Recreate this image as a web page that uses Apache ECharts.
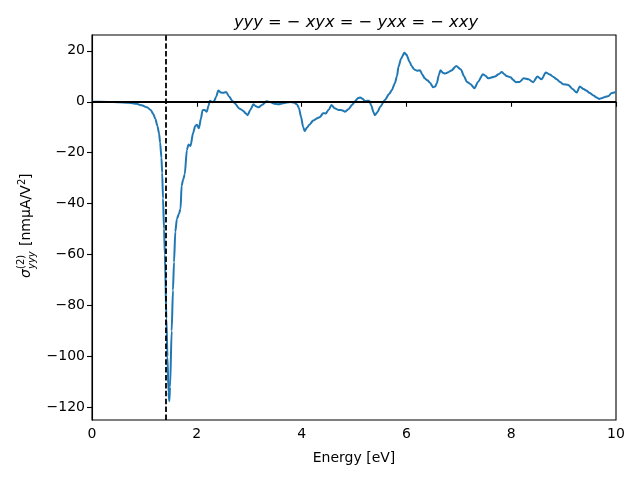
<!DOCTYPE html>
<html>
<head>
<meta charset="utf-8">
<script src="https://cdn.jsdelivr.net/npm/echarts@6/dist/echarts.min.js"></script>
<style>html,body{margin:0;padding:0;background:#fff}#c{width:640px;height:480px}</style>
</head>
<body>
<div id="c"></div>
<script>
var energy = [0,0.3,0.5,0.7,0.85,0.95,1.05,1.12,1.17,1.21,1.25,1.28,1.30,1.325,1.34,1.355,1.375,1.39,1.42,1.44,1.46,1.475,1.49,1.52,1.545,1.565,1.59,1.62,1.66,1.69,1.71,1.74,1.77,1.81,1.84,1.88,1.93,1.97,2.00,2.04,2.08,2.11,2.15,2.19,2.225,2.25,2.30,2.33,2.37,2.41,2.46,2.50,2.56,2.62,2.67,2.73,2.80,2.86,2.89,2.93,2.97,3.02,3.08,3.13,3.18,3.25,3.33,3.40,3.48,3.56,3.65,3.78,3.85,3.91,3.95,3.99,4.03,4.06,4.10,4.15,4.22,4.30,4.35,4.41,4.46,4.52,4.57,4.63,4.70,4.77,4.83,4.90,4.96,5.02,5.08,5.12,5.16,5.21,5.25,5.29,5.33,5.37,5.40,5.45,5.50,5.59,5.67,5.72,5.78,5.82,5.85,5.90,5.96,6.00,6.06,6.10,6.15,6.20,6.26,6.30,6.35,6.40,6.45,6.51,6.55,6.58,6.62,6.65,6.70,6.74,6.80,6.86,6.95,7.04,7.10,7.15,7.22,7.30,7.37,7.46,7.51,7.56,7.62,7.69,7.76,7.82,7.87,7.91,7.99,8.04,8.09,8.16,8.24,8.33,8.42,8.50,8.58,8.66,8.74,8.80,8.87,8.93,8.99,9.09,9.17,9.25,9.31,9.38,9.44,9.50,9.57,9.63,9.68,9.74,9.79,9.85,9.92,10.0];
var sigma = [0,-0.05,-0.15,-0.4,-0.8,-1.4,-2.2,-3.2,-4.8,-6.8,-9.6,-12.5,-16,-22,-28,-38,-50,-60,-85,-100,-114,-117.5,-112,-90,-74,-63,-51,-46,-44,-42,-33,-30.5,-28.5,-19,-16.8,-17.4,-12.2,-9.5,-9,-10.4,-6.5,-3.3,-3.2,-3.9,-1.5,0.4,-0.2,0.3,2.0,4.4,3.6,3.5,3.8,2.0,0.5,-0.7,-2.5,-3.2,-3.6,-4.5,-5.3,-3.2,-1.0,-1.8,-2.2,-1.2,0.2,-0.1,-0.8,-1.0,-0.6,-0.1,-0.3,-1.0,-2.5,-6,-10,-11.5,-10.2,-9,-7.4,-6.5,-6,-4.5,-4.6,-3,-1.3,-2.5,-3.2,-3.3,-3.9,-2.8,-1.3,0.2,1.5,1.7,1.2,0.3,0.4,0.4,-1.5,-4,-5.3,-4,-2,0.7,3,4.5,7.3,10,13.8,17,19.2,18.5,15.7,14,12.7,12.2,12.4,10.8,9.2,8.4,7.5,5.7,6,7.2,10.5,12.4,11.3,11.1,11.6,12.3,14,12.7,10,7.9,7.0,5.3,7.9,10.8,10.2,9.2,9.5,9.9,10.8,11.7,10.8,10.1,9.6,8.5,7.7,7.8,9.2,8.8,7.7,9.9,8.8,11.5,10.7,9.8,8.8,7.8,6.9,6.6,5.0,3.6,6.0,5.0,4.3,3.4,2.5,1.7,1.1,1.5,1.9,2.2,3.4,3.8];
var yTicks = [-120,-100,-80,-60,-40,-20,0,20];
var xTicks = [0,2,4,6,8,10];
var gapEnergy = 1.41;

var chart = echarts.init(document.getElementById('c'), null, {renderer:'canvas'});
var pts = energy.map(function(e,i){return [e, sigma[i]];});
var F = 'DejaVu Sans';
var lblFs = 14, subFs = 10;
function fmt(v){ return v < 0 ? '\u2212' + Math.abs(v) : String(v); }
chart.setOption({
  animation:false,
  backgroundColor:'#fff',
  title:{text:'yyy = − xyx = − yxx = − xxy', left:351, top:10, textAlign:'center',
    textStyle:{fontFamily:F, fontStyle:'italic', fontWeight:'normal', fontSize:16.3, color:'#000'}},
  grid:{left:92, right:24, top:35, bottom:60, show:true, borderColor:'#000', borderWidth:1.1, backgroundColor:'transparent'},
  xAxis:{type:'value', min:0, max:10, interval:2,
    name:'Energy [eV]', nameLocation:'middle', nameGap:31,
    nameTextStyle:{fontFamily:F, fontSize:14, color:'#000'},
    axisLine:{show:true, lineStyle:{color:'#000', width:1.1}},
    axisTick:{show:true, inside:false, length:5, lineStyle:{color:'#000', width:1.1}},
    axisLabel:{fontFamily:F, fontSize:14, color:'#000', margin:7, formatter:fmt},
    splitLine:{show:false}},
  yAxis:{type:'value', min:-124.9, max:26.2,
    axisLine:{show:true, onZero:false, lineStyle:{color:'#000', width:1.1}},
    axisTick:{show:true, inside:false, length:5, customValues:yTicks, lineStyle:{color:'#000', width:1.1}},
    axisLabel:{fontFamily:F, fontSize:14, color:'#000', margin:7, customValues:yTicks, formatter:fmt},
    splitLine:{show:false}},
  graphic:[{
    type:'group', x:33, y:227, rotation:Math.PI/2,
    children:[
      {type:'text', x:-51, y:0, style:{text:'σ', font:'italic '+lblFs+'px "DejaVu Sans"', fill:'#000', textAlign:'left', textVerticalAlign:'bottom'}},
      {type:'text', x:-42, y:-7, style:{text:'(2)', font:subFs+'px "DejaVu Sans"', fill:'#000', textAlign:'left', textVerticalAlign:'bottom'}},
      {type:'text', x:-42, y:4, style:{text:'yyy', font:'italic '+subFs+'px "DejaVu Sans"', fill:'#000', textAlign:'left', textVerticalAlign:'bottom'}},
      {type:'text', x:-19, y:0, style:{text:'[nmμA/V', font:lblFs+'px "DejaVu Sans"', fill:'#000', textAlign:'left', textVerticalAlign:'bottom'}},
      {type:'text', x:42, y:-6, style:{text:'2', font:subFs+'px "DejaVu Sans"', fill:'#000', textAlign:'left', textVerticalAlign:'bottom'}},
      {type:'text', x:48, y:0, style:{text:']', font:lblFs+'px "DejaVu Sans"', fill:'#000', textAlign:'left', textVerticalAlign:'bottom'}}
    ]
  }],
  series:[{
    type:'line', data:pts, showSymbol:false, smooth:0.25, smoothMonotone:'x',
    lineStyle:{color:'#1f77b4', width:2}, z:2,
    markLine:{silent:true, symbol:'none', label:{show:false}, animation:false,
      data:[
        {xAxis:gapEnergy, lineStyle:{color:'#000', width:1.8, type:[5.5,2.4]}},
        {yAxis:0, lineStyle:{color:'#000', width:1.8, type:'solid'}}
      ]}
  }]
});
</script>
</body>
</html>
